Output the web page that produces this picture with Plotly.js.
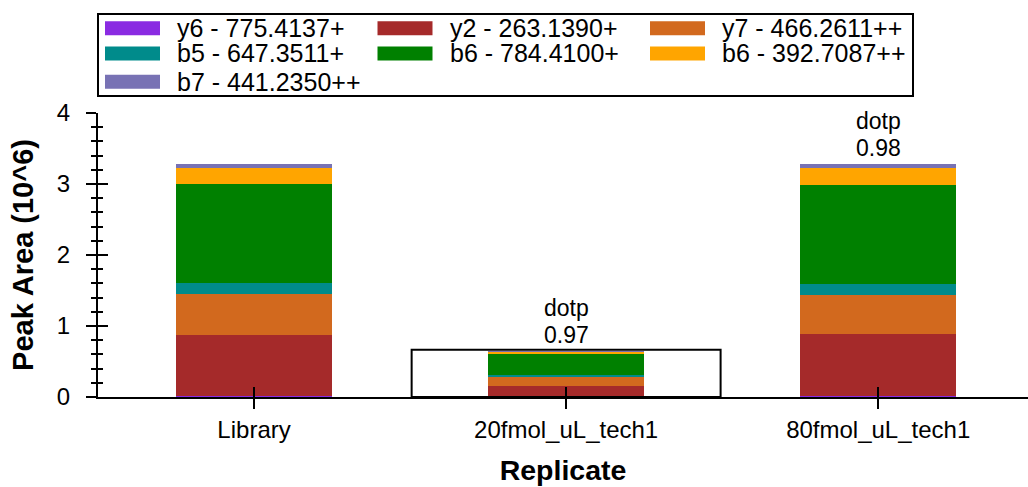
<!DOCTYPE html>
<html><head><meta charset="utf-8">
<script src="https://cdn.plot.ly/plotly-3.0.1.min.js"></script>
<style>html,body{margin:0;padding:0;background:#fff;} #chart{width:1028px;height:487px;}</style>
</head><body><div id="chart"></div>
<script>
// ---- data ----
const replicates = ['Library', '20fmol_uL_tech1', '80fmol_uL_tech1'];
const seriesNames = ['y6 - 775.4137+', 'y2 - 263.1390+', 'y7 - 466.2611++', 'b5 - 647.3511+', 'b6 - 784.4100+', 'b6 - 392.7087++', 'b7 - 441.2350++'];
const seriesColors = ['#8A2BE2', '#A52A2A', '#D2691E', '#008B8B', '#008000', '#FFA500', '#7872B4'];
const y6_775 = [0.012, 0.002, 0.010];
const y2_263 = [0.857, 0.149, 0.877];
const y7_466 = [0.582, 0.126, 0.545];
const b5_647 = [0.150, 0.029, 0.155];
const b6_784 = [1.395, 0.295, 1.395];
const b6_392 = [0.225, 0.043, 0.239];
const b7_441 = [0.056, 0.003, 0.056];
const dotpLabel = 'dotp';
const dotpValues = [null, '0.97', '0.98'];
const selectedReplicate = 1;

const seriesValues = [y6_775, y2_263, y7_466, b5_647, b6_784, b6_392, b7_441];
const totals = replicates.map((_, i) => seriesValues.reduce((s, arr) => s + arr[i], 0));

// ---- layout geometry ----
const W = 1028, H = 487;
const M = {l: 98, r: 0, t: 113, b: 90};
const FONT = 'Liberation Sans, Arial, Helvetica, sans-serif';
const plotW = W - M.l - M.r, plotH = H - M.t - M.b;
const px = x => (x - M.l) / plotW;
const py = y => (H - M.b - y) / plotH;

const traces = seriesNames.map((name, k) => ({
  type: 'bar', name: name, x: replicates, y: seriesValues[k],
  marker: {color: seriesColors[k], line: {width: 0}},
  showlegend: false, hoverinfo: 'x+y+name'
}));
// helper traces so the overlay axes (inward ticks) are drawn
traces.push({type: 'scatter', x: replicates, y: [null, null, null], xaxis: 'x2', yaxis: 'y', mode: 'none', showlegend: false, hoverinfo: 'skip'});
traces.push({type: 'scatter', x: replicates, y: [null, null, null], xaxis: 'x', yaxis: 'y2', mode: 'none', showlegend: false, hoverinfo: 'skip'});

const shapes = [];
const annotations = [];

// selected replicate box
shapes.push({type: 'rect', xref: 'x', yref: 'y',
  x0: selectedReplicate - 0.495, x1: selectedReplicate + 0.495,
  y0: 0, y1: totals[selectedReplicate] + 0.02,
  line: {color: '#000', width: 2}, fillcolor: 'rgba(0,0,0,0)', layer: 'above'});

// dotp labels (two lines, tight spacing)
dotpValues.forEach((v, i) => {
  if (v === null) return;
  const base = {x: replicates[i], y: totals[i], xref: 'x', yref: 'y',
    showarrow: false, yanchor: 'bottom', borderpad: 0,
    font: {family: FONT, size: 23, color: '#000'}};
  annotations.push(Object.assign({}, base, {text: v, yshift: 2}));
  annotations.push(Object.assign({}, base, {text: dotpLabel, yshift: 29.5}));
});

// legend (drawn box with wide swatches)
const legRows = [28.3, 53.5, 81.7];
shapes.push({type: 'rect', xref: 'paper', yref: 'paper',
  x0: px(98), x1: px(913), y0: py(96), y1: py(14),
  line: {color: '#000', width: 2}, fillcolor: '#fff', layer: 'above'});
seriesNames.forEach((name, k) => {
  const col = k % 3, row = Math.floor(k / 3);
  const sx = 105 + col * 272.5, cy = legRows[row];
  shapes.push({type: 'rect', xref: 'paper', yref: 'paper',
    x0: px(sx), x1: px(sx + 55), y0: py(cy + 7), y1: py(cy - 7),
    line: {width: 0}, fillcolor: seriesColors[k], layer: 'above'});
  annotations.push({xref: 'paper', yref: 'paper', x: px(sx + 71), y: py(cy),
    xanchor: 'left', yanchor: 'middle', text: name, showarrow: false, borderpad: 0,
    font: {family: FONT, size: 25, color: '#000'}});
});

const axCommon = {showgrid: false, zeroline: false, fixedrange: true};
const layout = {
  width: W, height: H, margin: {l: M.l, r: M.r, t: M.t, b: M.b, pad: 0},
  paper_bgcolor: '#fff', plot_bgcolor: '#fff',
  barmode: 'stack', bargap: 0.5,
  showlegend: false,
  font: {family: FONT, color: '#000'},
  xaxis: Object.assign({}, axCommon, {
    type: 'category', range: [-0.5, 2.48],
    showline: true, linecolor: '#000', linewidth: 2,
    ticks: 'outside', ticklen: 10, tickwidth: 2, tickcolor: '#000',
    tickfont: {family: FONT, size: 24, color: '#000'},
    title: {text: 'Replicate', standoff: 18, font: {family: FONT, size: 28.5, weight: 'bold', color: '#000'}}
  }),
  xaxis2: Object.assign({}, axCommon, {
    type: 'category', overlaying: 'x', anchor: 'y', side: 'bottom', range: [-0.5, 2.48],
    showline: false, ticks: 'inside', ticklen: 10, tickwidth: 2, tickcolor: '#000',
    showticklabels: false
  }),
  yaxis: Object.assign({}, axCommon, {
    range: [0, 4], tick0: 0, dtick: 1,
    showline: true, linecolor: '#000', linewidth: 2,
    ticks: 'outside', ticklen: 10, tickwidth: 2, tickcolor: '#000',
    minor: {dtick: 0.2, ticks: 'outside', ticklen: 5, tickwidth: 2, tickcolor: '#000', showgrid: false},
    ticklabelstandoff: 11,
    tickfont: {family: FONT, size: 24, color: '#000'},
    title: {text: 'Peak Area (10^6)', standoff: 15, font: {family: FONT, size: 29, weight: 'bold', color: '#000'}}
  }),
  yaxis2: Object.assign({}, axCommon, {
    overlaying: 'y', anchor: 'x', side: 'left', range: [0, 4], tick0: 0, dtick: 1,
    showline: false, ticks: 'inside', ticklen: 10, tickwidth: 2, tickcolor: '#000',
    minor: {dtick: 0.2, ticks: 'inside', ticklen: 5, tickwidth: 2, tickcolor: '#000', showgrid: false},
    showticklabels: false
  }),
  shapes: shapes,
  annotations: annotations
};

Plotly.newPlot('chart', traces, layout, {displayModeBar: false, responsive: false});
</script>
</body></html>
